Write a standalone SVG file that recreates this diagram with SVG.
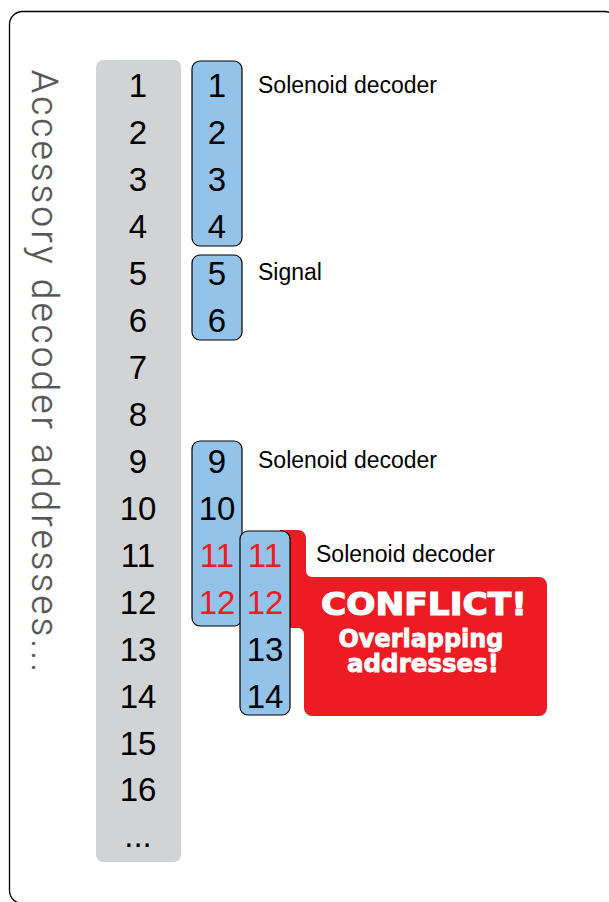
<svg xmlns="http://www.w3.org/2000/svg" width="609" height="902" viewBox="0 0 609 902">
<style>
.num{font-family:"Liberation Sans",Arial,sans-serif;font-size:33px;text-anchor:middle;fill:#000}
.red{fill:#ed1c24}
.lbl{font-family:"Liberation Sans",Arial,sans-serif;font-size:23px;fill:#000}
.box{fill:#93c3e9;stroke:#000;stroke-width:1.2}
.cf{font-family:"DejaVu Sans","Liberation Sans",sans-serif;font-weight:bold;fill:#fff;text-anchor:middle;stroke:#fff}
</style>
<rect x="9.5" y="11.5" width="608" height="892" rx="13" fill="#fff" stroke="#000" stroke-width="1.3"/>
<text transform="translate(32,70) rotate(90)" font-family="Roboto,'Liberation Sans',sans-serif" font-weight="300" font-size="37" fill="#555" stroke="#555" stroke-width="0.3" textLength="602" lengthAdjust="spacing">Accessory decoder addresses...</text>
<g id="addresses">
<rect x="96" y="60" width="85" height="802" rx="7" fill="#d1d3d4"/>
<text class="num" x="138" y="97">1</text>
<text class="num" x="138" y="144">2</text>
<text class="num" x="138" y="191">3</text>
<text class="num" x="138" y="238">4</text>
<text class="num" x="138" y="285">5</text>
<text class="num" x="138" y="332">6</text>
<text class="num" x="138" y="379">7</text>
<text class="num" x="138" y="426">8</text>
<text class="num" x="138" y="473">9</text>
<text class="num" x="138" y="520">10</text>
<text class="num" x="138" y="566.5">11</text>
<text class="num" x="138" y="613.5">12</text>
<text class="num" x="138" y="660.5">13</text>
<text class="num" x="138" y="707.5">14</text>
<text class="num" x="138" y="754.5">15</text>
<text class="num" x="138" y="801">16</text>
<text class="num" x="138" y="847">...</text>
</g>
<g id="decoder1">
<rect class="box" x="192" y="61" width="50" height="185" rx="8"/>
<text class="num" x="217" y="97">1</text>
<text class="num" x="217" y="144">2</text>
<text class="num" x="217" y="191">3</text>
<text class="num" x="217" y="238">4</text>
<text class="lbl" x="258" y="93">Solenoid decoder</text>
</g>
<g id="signal">
<rect class="box" x="192" y="255" width="50" height="85" rx="8"/>
<text class="num" x="217" y="285">5</text>
<text class="num" x="217" y="332">6</text>
<text class="lbl" x="258" y="280">Signal</text>
</g>
<g id="decoder2">
<rect class="box" x="192" y="441" width="50" height="185" rx="8"/>
<text class="num" x="217" y="473">9</text>
<text class="num" x="217" y="520">10</text>
<text class="num red" x="217" y="566.5">11</text>
<text class="num red" x="217" y="613.5">12</text>
<text class="lbl" x="258" y="468">Solenoid decoder</text>
</g>
<g id="conflict">
<path class="red" d="M280,530 H298 A8,8 0 0 1 306,538 V571 A6,6 0 0 0 312,577 H539 A8,8 0 0 1 547,585 V708 A8,8 0 0 1 539,716 H312 A8,8 0 0 1 304,708 V634 A6,6 0 0 0 298,628 H280 Z"/>
<text class="cf" x="424" y="615" font-size="32" stroke-width="1.2" textLength="206" lengthAdjust="spacingAndGlyphs">CONFLICT!</text>
<text class="cf" x="421" y="646.5" font-size="24" stroke-width="0.8" textLength="165" lengthAdjust="spacingAndGlyphs">Overlapping</text>
<text class="cf" x="423" y="671.5" font-size="24" stroke-width="0.8" textLength="152" lengthAdjust="spacingAndGlyphs">addresses!</text>
</g>
<g id="decoder3">
<rect class="box" x="240" y="531" width="50" height="184" rx="8"/>
<text class="num red" x="265" y="566.5">11</text>
<text class="num red" x="265" y="613.5">12</text>
<text class="num" x="265" y="660.5">13</text>
<text class="num" x="265" y="707.5">14</text>
<text class="lbl" x="316" y="562">Solenoid decoder</text>
</g>
<g id="connectors"></g>
</svg>
